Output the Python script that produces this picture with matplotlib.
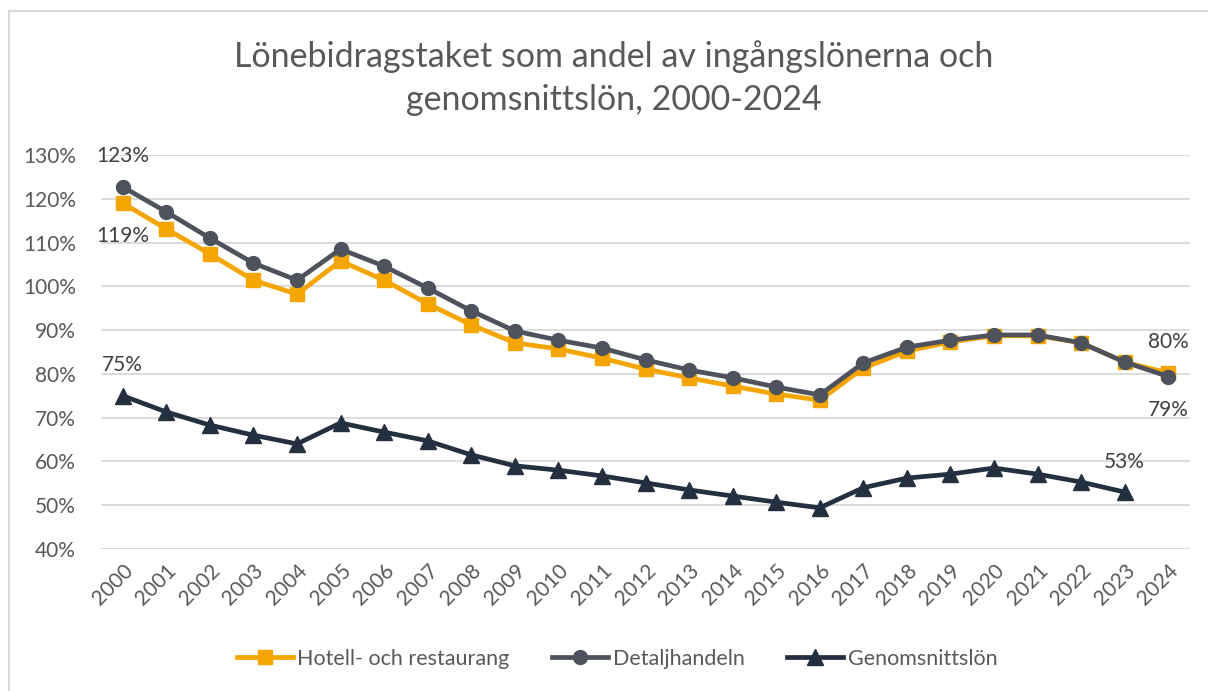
import numpy as np
import matplotlib
matplotlib.use("Agg")
import matplotlib.pyplot as plt
from matplotlib.lines import Line2D
from matplotlib.ticker import MultipleLocator, FuncFormatter

plt.rcParams['font.family'] = ['Lato', 'DejaVu Sans']

# ---- data ----
years = [str(y) for y in range(2000, 2025)]
hotell = [119.0, 113.1, 107.4, 101.4, 98.2, 105.8, 101.4, 96.0, 91.2, 87.1,
          85.7, 83.6, 81.1, 79.1, 77.2, 75.4, 74.0, 81.3, 85.2, 87.3,
          88.7, 88.7, 87.1, 82.7, 80.2]
detalj = [122.7, 117.0, 111.0, 105.3, 101.4, 108.5, 104.6, 99.6, 94.4, 89.8,
          87.7, 85.9, 83.2, 80.9, 79.1, 77.0, 75.2, 82.5, 86.1, 87.7,
          88.9, 88.9, 87.1, 82.7, 79.4]
genomsnitt = [75.0, 71.3, 68.3, 66.0, 64.0, 68.8, 66.7, 64.7, 61.5, 59.0,
              58.0, 56.7, 55.1, 53.5, 52.1, 50.7, 49.4, 54.0, 56.2, 57.1,
              58.5, 57.1, 55.3, 53.0]
series_names = ["Hotell- och restaurang", "Detaljhandeln", "Genomsnittslön"]
title = "Lönebidragstaket som andel av ingångslönerna och\ngenomsnittslön, 2000-2024"

c_hot, c_det, c_gen = "#F5A500", "#4D525C", "#243040"
txt = "#595959"
lab = "#404040"

fig = plt.figure(figsize=(12.08, 6.91), dpi=100)
ax = fig.add_axes([101/1208, 1-549/691, (1190-101)/1208, (549-155)/691])

x = np.arange(len(years))
ax.plot(x, hotell, color=c_hot, lw=3.4, marker="s", ms=10, zorder=3)
ax.plot(x, detalj, color=c_det, lw=3.4, marker="o", ms=10, zorder=4)
ax.plot(x[:len(genomsnitt)], genomsnitt, color=c_gen, lw=3.4, marker="^", ms=11, zorder=3)

ax.set_xlim(-0.5, len(years) - 0.5)
ax.set_ylim(40, 130)
ax.yaxis.set_major_locator(MultipleLocator(10))
ax.yaxis.set_major_formatter(FuncFormatter(lambda v, p: f"{v:.0f}%"))
ax.set_xticks(x)
ax.set_xticklabels(years, rotation=45, ha="right", rotation_mode="anchor")
ax.tick_params(axis="both", length=0, labelsize=15, colors=txt)
ax.tick_params(axis="x", pad=8)
ax.tick_params(axis="y", pad=18)
ax.grid(axis="y", color="#D9D9D9", lw=1.3)
ax.set_axisbelow(True)
for s in ax.spines.values():
    s.set_visible(False)

# datalabels
def lbl(i, v, dy, ha="center"):
    ax.annotate(f"{v:.0f}%", (x[i], v), xytext=(0, dy), textcoords="offset points",
                ha=ha, va="center", fontsize=15, color=lab)

lbl(0, detalj[0], 22)
lbl(0, hotell[0], -24)
lbl(0, genomsnitt[0], 22)
lbl(len(years) - 1, hotell[-1], 22)
lbl(len(years) - 1, detalj[-1], -24)
lbl(len(genomsnitt) - 1, genomsnitt[-1], 22)

fig.text(614/1208, 1-78/691, title, ha="center", va="center", fontsize=24.5,
         color=txt, linespacing=1.45)

handles = [Line2D([], [], color=c_hot, lw=3.4, marker="s", ms=10),
           Line2D([], [], color=c_det, lw=3.4, marker="o", ms=10),
           Line2D([], [], color=c_gen, lw=3.4, marker="^", ms=11)]
fig.legend(handles, series_names, loc="center", bbox_to_anchor=(617/1208, 1-659/691),
           ncol=3, frameon=False, fontsize=15.5, labelcolor=txt, handlelength=2.6,
           handletextpad=0.2, columnspacing=2.0)

# ram runt diagrammet
fig.add_artist(Line2D([9/1208, 1], [1-11/691, 1-11/691], color="#D9D9D9", lw=1.5))
fig.add_artist(Line2D([9/1208, 9/1208], [0, 1-11/691], color="#D9D9D9", lw=1.5))

fig.savefig("out.png", dpi=100)
